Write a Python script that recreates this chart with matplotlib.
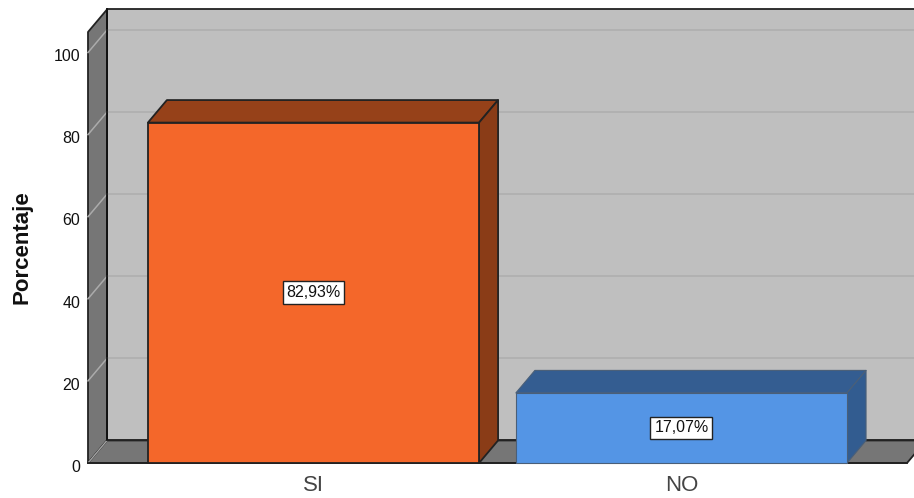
import matplotlib
matplotlib.use('Agg')
import matplotlib.pyplot as plt
from matplotlib.patches import Polygon
from matplotlib.transforms import ScaledTranslation

plt.rcParams['font.family'] = ['Liberation Sans', 'DejaVu Sans']

# data
categories = ['SI', 'NO']
values = [82.93, 17.07]
labels = ['82,93%', '17,07%']
yticks = [0, 20, 40, 60, 80, 100]

W, H = 914, 498
fig = plt.figure(figsize=(W / 100, H / 100), dpi=100)
# axes box = front plane of the 3d box, in pixels
ax = fig.add_axes([88 / W, (H - 463) / H, (W - 88) / W, (463 - 32) / H])
ax.set_xlim(-0.6128, 1.632)
ax.set_ylim(0, 105)
for s in ax.spines.values():
    s.set_visible(False)
ax.patch.set_visible(False)

# depth of the fake 3d, in data units
dx = 19 / 368
dy = 22.5 / 4.1
x0, x1 = ax.get_xlim()
y1 = ax.get_ylim()[1]
xr = 1.613
dark = '#222222'


def poly(pts, fc, ec=dark, lw=1.3, z=1):
    ax.add_patch(Polygon(pts, closed=True, facecolor=fc, edgecolor=ec, linewidth=lw,
                         zorder=z, clip_on=False, joinstyle='round'))


# walls and floor
poly([(x0 + dx, dy), (xr + dx, dy), (xr + dx, y1 + dy), (x0 + dx, y1 + dy)], '#BFBFBF', z=1)
poly([(x0, 0), (x0 + dx, dy), (x0 + dx, y1 + dy), (x0, y1)], '#767676', z=1.1)
poly([(x0, 0), (xr, 0), (xr + dx, dy), (x0 + dx, dy)], '#767676', z=1.1)

# gridlines
for t in yticks[1:]:
    ax.plot([x0 + dx, xr + dx], [t + dy, t + dy], color='#B0B0B0', lw=1.3, zorder=1.2, clip_on=False)
    ax.plot([x0, x0 + dx], [t, t + dy], color='#ABABAB', lw=1.1, zorder=1.2, clip_on=False)
ax.plot([x0, x0 + dx], [0, dy], color='#A5A5A5', lw=1.0, zorder=1.2)
ax.plot([x0 + dx, x0 + dx], [dy, y1 + dy], color='#111111', lw=1.3, zorder=1.3, clip_on=False)

# bars
bar_w = 0.9
colors = [('#F4672A', '#964119', '#8A3C17', dark), ('#5495E5', '#345D91', '#325C90', '#4A5F78')]
for i, v in enumerate(values):
    front, top, side, edge = colors[i]
    lw = 1.3 if i == 0 else 0.8
    l, r = i - bar_w / 2, i + bar_w / 2
    poly([(l, v), (r, v), (r + dx, v + dy), (l + dx, v + dy)], top, edge, lw, 3)
    poly([(r, 0), (r + dx, dy), (r + dx, v + dy), (r, v)], side, edge, lw, 3)
    poly([(l, 0), (r, 0), (r, v), (l, v)], front, edge, lw, 3.1)
    ax.text(i, v / 2, labels[i], ha='center', va='center', fontsize=11.5, color='#111111', zorder=4,
            bbox=dict(boxstyle='square,pad=0.24', facecolor='white', edgecolor='#222222', linewidth=1.0))

# front floor edge
ax.plot([x0, xr], [0, 0], color=dark, lw=1.3, zorder=2, clip_on=False)

ax.set_xticks(range(len(categories)))
ax.set_xticklabels(categories, fontsize=16, color='#444444')
ax.set_yticks(yticks)
ax.set_yticklabels([str(t) for t in yticks], fontsize=11.5, color='#111111')
ax.tick_params(axis='both', length=0)
ax.tick_params(axis='y', pad=5.5)
ax.tick_params(axis='x', pad=8.5)
# labels sit a little under their gridline in the original
shift = ScaledTranslation(0, -2 / 72, fig.dpi_scale_trans)
for lab in ax.get_yticklabels():
    lab.set_transform(lab.get_transform() + shift)
ax.set_ylabel('Porcentaje', fontsize=16, fontweight='bold', color='#111111')
ax.yaxis.set_label_coords(-0.0666, 0.501)

fig.savefig('out.png', dpi=100, facecolor='white')
